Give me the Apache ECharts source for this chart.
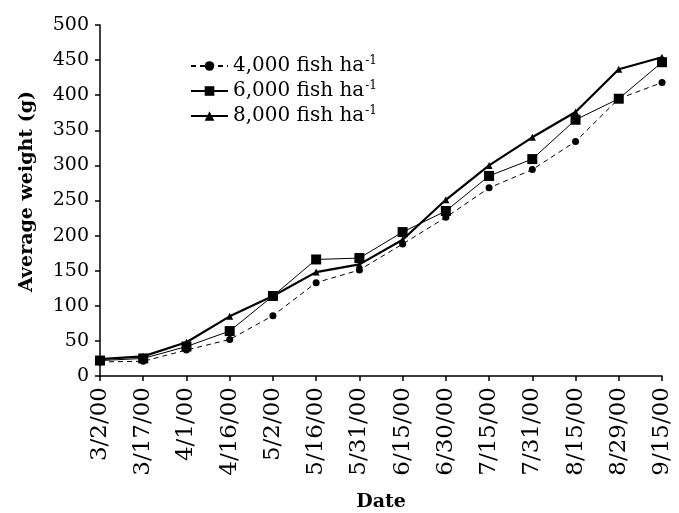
<!DOCTYPE html>
<html>
<head>
<meta charset="utf-8">
<script src="https://cdn.jsdelivr.net/npm/echarts@6/dist/echarts.min.js"></script>
<style>
  html, body { margin: 0; padding: 0; background: #fff; }
  #chart { width: 679px; height: 513px; }
</style>
</head>
<body>
<div id="chart"></div>
<script>
// Sampling dates
var dates = ['3/2/00', '3/17/00', '4/1/00', '4/16/00', '5/2/00', '5/16/00', '5/31/00',
             '6/15/00', '6/30/00', '7/15/00', '7/31/00', '8/15/00', '8/29/00', '9/15/00'];

// Average weight (g) for each stocking density
var density4000 = [20, 21, 37, 52, 86, 133, 151, 188, 226, 268, 294, 334, 395, 418];
var density6000 = [22, 25, 42, 64, 114, 166, 168, 205, 235, 285, 309, 365, 395, 447];
var density8000 = [24, 28, 48, 85, 114, 148, 159, 194, 251, 300, 340, 376, 437, 454];

var seriesNames = ['4,000 fish ha', '6,000 fish ha', '8,000 fish ha'];

var FONT = '"DejaVu Serif", "Liberation Serif", serif';

var chart = echarts.init(document.getElementById('chart'), null, { renderer: 'canvas' });

chart.setOption({
  animation: false,
  backgroundColor: '#fff',
  grid: {
    left: 100, right: 17, top: 25, bottom: 137,
    containLabel: false,
    outerBoundsMode: 'none'
  },
  legend: {
    left: 185,
    top: 50,
    orient: 'vertical',
    itemGap: 4,
    itemWidth: 37,
    itemHeight: 12,
    data: seriesNames,
    formatter: function (name) { return '{a|' + name + '}{s|-1}'; },
    textStyle: {
      rich: {
        a: { fontFamily: FONT, fontSize: 20, color: '#000', lineHeight: 20 },
        s: { fontFamily: FONT, fontSize: 12, color: '#000', padding: [0, 0, 10, 1] }
      }
    }
  },
  xAxis: {
    type: 'category',
    data: dates,
    boundaryGap: false,
    name: 'Date',
    nameLocation: 'middle',
    nameGap: 117,
    nameTextStyle: { fontFamily: FONT, fontSize: 19, fontWeight: 'bold', color: '#000' },
    axisLine: { lineStyle: { color: '#000', width: 1.5 } },
    axisTick: { show: true, length: 5, alignWithLabel: true, lineStyle: { color: '#000', width: 1.5 } },
    axisLabel: {
      rotate: 90,
      interval: 0,
      margin: 11,
      fontFamily: FONT,
      fontSize: 23,
      color: '#000'
    },
    splitLine: { show: false }
  },
  yAxis: {
    type: 'value',
    min: 0,
    max: 500,
    interval: 50,
    name: 'Average weight (g)',
    nameLocation: 'middle',
    nameGap: 63,
    nameTextStyle: { fontFamily: FONT, fontSize: 19, fontWeight: 'bold', color: '#000', padding: [0, 0, 0, 18] },
    axisLine: { show: true, lineStyle: { color: '#000', width: 1.5 } },
    axisTick: { show: true, length: 5, lineStyle: { color: '#000', width: 1.5 } },
    axisLabel: { fontFamily: FONT, fontSize: 19, color: '#000', margin: 11 },
    splitLine: { show: false }
  },
  series: [
    {
      name: seriesNames[0],
      type: 'line',
      data: density4000,
      symbol: 'circle',
      symbolSize: 7,
      itemStyle: { color: '#000' },
      lineStyle: { color: '#000', width: 1, type: [5, 4] },
      z: 2
    },
    {
      name: seriesNames[1],
      type: 'line',
      data: density6000,
      symbol: 'rect',
      symbolSize: 10,
      itemStyle: { color: '#000' },
      lineStyle: { color: '#000', width: 1 },
      z: 3
    },
    {
      name: seriesNames[2],
      type: 'line',
      data: density8000,
      symbol: 'triangle',
      symbolSize: 7,
      itemStyle: { color: '#000' },
      lineStyle: { color: '#000', width: 2.2 },
      z: 4
    }
  ]
});
</script>
</body>
</html>
